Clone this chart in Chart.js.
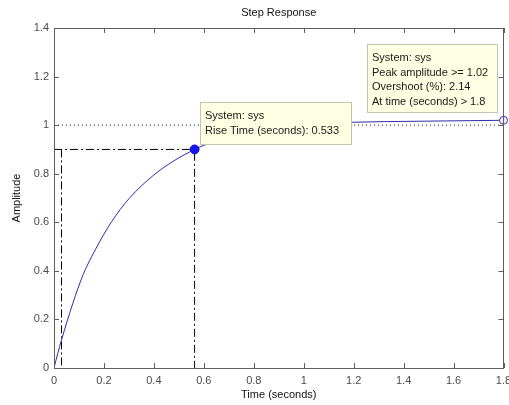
<!DOCTYPE html>
<html>
<head>
<meta charset="utf-8">
<script src="https://cdn.jsdelivr.net/npm/chart.js@4"></script>
<style>
  html, body { margin: 0; padding: 0; background: #fff; }
  canvas { display: block; }
</style>
</head>
<body>
<canvas id="stepChart" width="509" height="405"></canvas>
<script>
// step response samples
let timeValues = [0, 0.015, 0.03, 0.075, 0.117, 0.184, 0.231, 0.3, 0.4, 0.48, 0.563, 0.6, 0.7, 0.8, 0.9, 1.0, 1.2, 1.45, 1.8];
let amplitudeValues = [0, 0.06, 0.115, 0.265, 0.385, 0.522, 0.603, 0.697, 0.795, 0.853, 0.9, 0.917, 0.952, 0.976, 0.992, 1.002, 1.012, 1.016, 1.02];

// characteristics
let finalValue = 1;
let riseStart = 0.03;
let riseEnd = 0.563;
let riseLevel = 0.9;
let peakTime = 1.8;
let peakValue = 1.02;

let xTicks = [0, 0.2, 0.4, 0.6, 0.8, 1, 1.2, 1.4, 1.6, 1.8];
let xTickLabels = ['0', '0.2', '0.4', '0.6', '0.8', '1', '1.2', '1.4', '1.6', '1.8'];
let yTicks = [0, 0.2, 0.4, 0.6, 0.8, 1, 1.2, 1.4];
let yTickLabels = ['0', '0.2', '0.4', '0.6', '0.8', '1', '1.2', '1.4'];

let riseText = ['System: sys', 'Rise Time (seconds): 0.533'];
let peakText = ['System: sys', 'Peak amplitude >= 1.02', 'Overshoot (%): 2.14', 'At time (seconds) > 1.8'];

const FONT = '"Liberation Sans", Arial, sans-serif';
const dashDot = [8, 3, 2, 3];

let curve = timeValues.map((t, i) => ({x: t, y: amplitudeValues[i]}));

// box, inward ticks, titles and data tips
const matlabAxes = {
    id: 'matlabAxes',
    afterDatasetsDraw(chart) {
        let c = chart.ctx;
        let a = chart.chartArea;
        let xs = chart.scales.x;
        let ys = chart.scales.y;
        c.save();
        c.strokeStyle = '#5e5e5e';
        c.lineWidth = 1;
        c.beginPath();
        xTicks.forEach(v => {
            let px = Math.round(xs.getPixelForValue(v)) + 0.5;
            c.moveTo(px, a.bottom); c.lineTo(px, a.bottom - 5);
            c.moveTo(px, a.top); c.lineTo(px, a.top + 5);
        });
        yTicks.forEach(v => {
            let py = Math.round(ys.getPixelForValue(v)) + 0.5;
            c.moveTo(a.left, py); c.lineTo(a.left + 5, py);
            c.moveTo(a.right, py); c.lineTo(a.right - 5, py);
        });
        c.stroke();
        c.strokeRect(Math.round(a.left) + 0.5, Math.round(a.top) + 0.5,
            Math.round(a.right - a.left) - 1, Math.round(a.bottom - a.top));
        c.restore();
    },
    afterDraw(chart) {
        let c = chart.ctx;
        let a = chart.chartArea;
        let cx = (a.left + a.right) / 2;
        c.save();
        c.fillStyle = '#111';
        c.font = '11px ' + FONT;
        c.textAlign = 'center';
        c.textBaseline = 'middle';
        c.fillText('Step Response', cx, 13);
        c.fillText('Time (seconds)', cx, 395);
        c.save();
        c.translate(17, (a.top + a.bottom) / 2);
        c.rotate(-Math.PI / 2);
        c.fillText('Amplitude', 0, 0);
        c.restore();

        drawTip(c, 200, 102, 152, 43, riseText);
        drawTip(c, 367, 44, 131, 69, peakText);
        c.restore();
    }
};

function drawTip(c, x, y, w, h, lines) {
    c.fillStyle = '#ffffe4';
    c.fillRect(x, y, w, h);
    c.strokeStyle = '#c4c4b0';
    c.lineWidth = 1;
    c.strokeRect(x + 0.5, y + 0.5, w - 1, h - 1);
    c.fillStyle = '#1a1a1a';
    c.font = '11px ' + FONT;
    c.textAlign = 'left';
    c.textBaseline = 'middle';
    lines.forEach((s, i) => {
        c.fillText(s, x + 5, y + 14 + i * 14.5);
    });
}

let ctx = document.querySelector('#stepChart');
var stepChart = new Chart(ctx, {
    type: 'line',
    data: {
        datasets: [
            {
                // rise time marker
                data: [{x: riseEnd, y: riseLevel}],
                showLine: false,
                pointRadius: 4.5,
                pointBackgroundColor: '#1414e6',
                pointBorderColor: '#1414e6',
                order: 0
            },
            {
                // peak marker
                data: [{x: peakTime, y: peakValue}],
                showLine: false,
                pointRadius: 4,
                pointBackgroundColor: '#eeeeff',
                pointBorderColor: '#3c3cb4',
                pointBorderWidth: 1,
                clip: false,
                order: 1
            },
            {
                data: curve,
                borderColor: '#2e2ea6',
                borderWidth: 1,
                pointRadius: 0,
                cubicInterpolationMode: 'monotone',
                order: 2
            },
            {
                data: [{x: 0, y: finalValue}, {x: peakTime, y: finalValue}],
                borderColor: '#222',
                borderWidth: 1,
                borderDash: [1, 3],
                pointRadius: 0,
                order: 3
            },
            {
                data: [{x: 0, y: riseLevel}, {x: riseEnd, y: riseLevel}, {x: riseEnd, y: 0}],
                borderColor: '#000',
                borderWidth: 1,
                borderDash: dashDot,
                pointRadius: 0,
                order: 4
            },
            {
                data: [{x: riseStart, y: riseLevel}, {x: riseStart, y: 0}],
                borderColor: '#000',
                borderWidth: 1,
                borderDash: dashDot,
                pointRadius: 0,
                order: 5
            }
        ]
    },
    options: {
        responsive: false,
        animation: false,
        layout: { padding: { top: 28, right: 5, left: 0, bottom: 0 } },
        plugins: {
            legend: { display: false },
            tooltip: { enabled: false },
            title: { display: false }
        },
        scales: {
            x: {
                type: 'linear',
                min: 0,
                max: 1.8,
                afterBuildTicks: s => { s.ticks = xTicks.map(v => ({value: v})); },
                afterFit: s => { s.height = 37; s.paddingLeft = 0; s.paddingRight = 0; },
                grid: { display: false, drawTicks: false },
                border: { display: false },
                ticks: {
                    autoSkip: false,
                    maxRotation: 0,
                    padding: 6,
                    color: '#4a4a4a',
                    font: { size: 11, family: FONT },
                    callback: (v, i) => xTickLabels[i]
                }
            },
            y: {
                type: 'linear',
                min: 0,
                max: 1.4,
                afterBuildTicks: s => { s.ticks = yTicks.map(v => ({value: v})); },
                afterFit: s => { s.width = 54; s.paddingTop = 0; s.paddingBottom = 0; },
                grid: { display: false, drawTicks: false },
                border: { display: false },
                ticks: {
                    autoSkip: false,
                    padding: 5,
                    color: '#4a4a4a',
                    font: { size: 11, family: FONT },
                    callback: (v, i) => yTickLabels[i]
                }
            }
        }
    },
    plugins: [matlabAxes]
});
</script>
</body>
</html>
